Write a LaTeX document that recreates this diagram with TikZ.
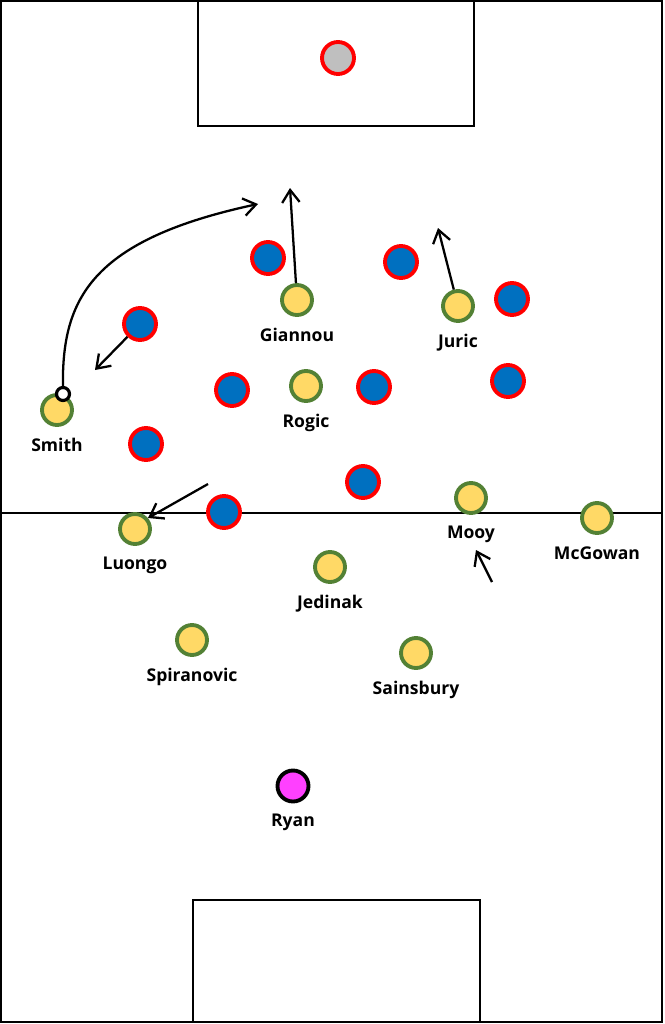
\documentclass[tikz,border=0pt]{standalone}
\usepackage{fontspec}
\setmainfont{Open Sans}
\usetikzlibrary{arrows.meta, positioning}
\definecolor{ownfill}{HTML}{FFD966}
\definecolor{owndraw}{HTML}{538135}
\definecolor{oppfill}{HTML}{0070C0}
\definecolor{oppdraw}{HTML}{FF0000}
\definecolor{keeper}{HTML}{FF40FF}
\tikzset{
    own/.style = {circle, draw=owndraw, fill=ownfill, line width=2.2pt, minimum size=0.6cm, inner sep=0pt},
    opp/.style = {circle, draw=oppdraw, fill=oppfill, line width=2.2pt, minimum size=0.64cm, inner sep=0pt},
    gk/.style = {circle, draw=black, fill=keeper, line width=2.2pt, minimum size=0.62cm, inner sep=0pt},
    plabel/.style = {font=\fontsize{10}{12}\selectfont\bfseries, inner sep=0pt},
    run/.style = {->, >={Straight Barb[length=2.5mm, width=3.5mm]}, line width=1.3pt},
}
\begin{document}
\begin{tikzpicture}[x=0.02cm, y=-0.02cm]
            \useasboundingbox (0,0) rectangle (664,1024);
            % pitch
            \draw[line width=0.6pt] (1,1) rectangle (662,1022);
            \draw[line width=0.6pt] (198,1) rectangle (474,126);
            \draw[line width=0.6pt] (193,900) rectangle (480,1022);
            \draw[line width=0.6pt] (1,513) -- (662,513);
            % opponents
            \node (ok) [circle, draw=oppdraw, fill=gray!50, line width=2.2pt, minimum size=0.64cm, inner sep=0pt] at (338,58) {};
            \node (o1) [opp] at (268,258) {};
            \node (o2) [opp] at (401,262) {};
            \node (o3) [opp] at (512,299) {};
            \node (o4) [opp] at (140,324) {};
            \node (o5) [opp] at (232,390) {};
            \node (o6) [opp] at (374,387) {};
            \node (o7) [opp] at (508,381) {};
            \node (o8) [opp] at (146,444) {};
            \node (o9) [opp] at (363,482) {};
            \node (o10) [opp] at (224,512) {};
            % own team
            \node (smith) [own] at (57,410) {};
            \node (giannou) [own] at (297,300) {};
            \node (juric) [own] at (458,306) {};
            \node (rogic) [own] at (306,386) {};
            \node (luongo) [own] at (135,529) {};
            \node (mooy) [own] at (471,498) {};
            \node (mcgowan) [own] at (597,518) {};
            \node (jedinak) [own] at (330,567) {};
            \node (spiranovic) [own] at (192,640) {};
            \node (sainsbury) [own] at (416,653) {};
            \node (ryan) [gk] at (293,786) {};
            \node [plabel, below=0.22cm of smith] {Smith};
            \node [plabel, below=0.22cm of giannou] {Giannou};
            \node [plabel, below=0.22cm of juric] {Juric};
            \node [plabel, below=0.22cm of rogic] {Rogic};
            \node [plabel, below=0.22cm of luongo] {Luongo};
            \node [plabel, below=0.22cm of mooy] {Mooy};
            \node [plabel, below=0.22cm of mcgowan] {McGowan};
            \node [plabel, below=0.22cm of jedinak] {Jedinak};
            \node [plabel, below=0.22cm of spiranovic] {Spiranovic};
            \node [plabel, below=0.22cm of sainsbury] {Sainsbury};
            \node [plabel, below=0.2cm of ryan] {Ryan};
            % movements
            \node (ball) [circle, draw=black, fill=white, line width=1.8pt, minimum size=0.26cm, inner sep=0pt] at (63,394) {};
            \coordinate (smithto) at (258,204);
            \coordinate (o4to) at (95,370);
            \coordinate (giannouto) at (290,188);
            \coordinate (juricto) at (438,228);
            \coordinate (luongofrom) at (208,484);
            \coordinate (luongoto) at (148,518);
            \coordinate (mooyfrom) at (492,582);
            \coordinate (mooyto) at (476,550);
            \draw[run] (ball) .. controls (62,300) and (90,240) .. (smithto);
            \draw[run] (o4) -- (o4to);
            \draw[run] (giannou) -- (giannouto);
            \draw[run] (juric) -- (juricto);
            \draw[run] (luongofrom) -- (luongoto);
            \draw[run] (mooyfrom) -- (mooyto);
\end{tikzpicture}
\end{document}
